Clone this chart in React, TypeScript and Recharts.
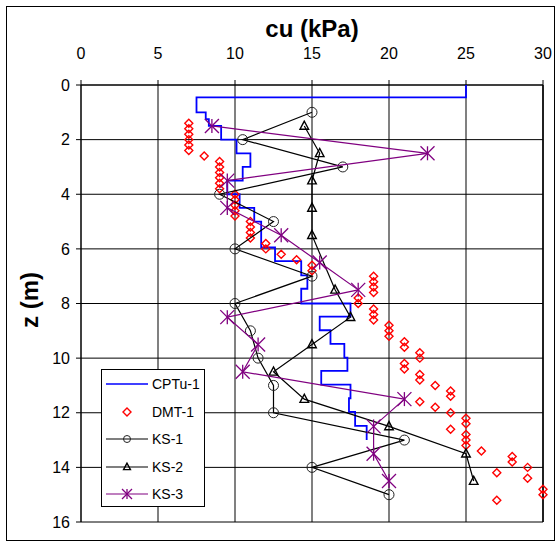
import React from 'react';
import { ScatterChart, Scatter, XAxis, YAxis, CartesianGrid, ReferenceLine } from 'recharts';

const FONT = '"Liberation Sans", Arial, sans-serif';

// CPTu-1 step profile, corner points in drawing order
const cptuCu = [25, 25, 7.5, 7.5, 8.1, 8.1, 8.3, 8.3, 9.1, 9.1, 10.1, 10.1, 11.0, 11.0, 10.5, 10.5, 9.5, 9.5, 10.3, 10.3,
  11.25, 11.25, 11.7, 11.7, 12.6, 12.6, 14.3, 14.3, 14.7, 14.7, 14.3, 14.3, 17.5, 17.5, 15.5, 15.5, 16.2, 16.2, 17.1, 17.1,
  17.3, 17.3, 15.6, 15.6, 17.5, 17.5, 17.4, 17.4, 17.8, 17.8, 18.55, 18.55];
const cptuZ = [0, 0.45, 0.45, 1.0, 1.0, 1.25, 1.25, 1.5, 1.5, 2.0, 2.0, 2.5, 2.5, 3.0, 3.0, 3.5, 3.5, 4.0, 4.0, 4.5,
  4.5, 5.0, 5.0, 5.95, 5.95, 6.45, 6.45, 6.97, 6.97, 7.46, 7.46, 8.0, 8.0, 8.48, 8.48, 8.98, 8.98, 9.48, 9.48, 9.98,
  9.98, 10.47, 10.47, 10.97, 10.97, 11.47, 11.47, 11.97, 11.97, 12.48, 12.48, 13.0];

// DMT-1
const dmtCu = [7, 7, 7, 7, 7, 7, 8, 9, 9, 9, 9, 9, 9, 10, 10, 10, 10, 10, 11, 11, 11, 11, 12, 12, 13, 14, 15, 15,
  19, 19, 19, 19, 18, 18, 19, 19, 19, 20, 20, 20, 21, 21, 22, 22, 21, 21, 22, 22, 23, 24, 24, 22, 23, 24, 25, 25,
  24, 25, 25, 25, 26, 28, 28, 29, 27, 29, 30, 30, 27];
const dmtZ = [1.4, 1.6, 1.8, 2.0, 2.2, 2.4, 2.6, 2.8, 3.0, 3.2, 3.4, 3.6, 3.8, 4.0, 4.2, 4.4, 4.6, 4.8, 5.0, 5.2, 5.4, 5.6,
  5.8, 6.0, 6.2, 6.4, 6.6, 6.8, 7.0, 7.2, 7.4, 7.6, 7.8, 8.0, 8.2, 8.4, 8.6, 8.8, 9.0, 9.2, 9.4, 9.6, 9.8, 10.0, 10.2,
  10.4, 10.6, 10.8, 11.0, 11.2, 11.4, 11.6, 11.8, 12.0, 12.2, 12.4, 12.6, 12.8, 13.0, 13.2, 13.4, 13.6, 13.8, 14.0,
  14.2, 14.4, 14.8, 15.0, 15.2];

// vane tests
const ks1Cu = [15, 10.5, 17, 9, 12.5, 10, 15, 10, 11, 11.5, 12.5, 12.5, 21, 15, 20];
const ks1Z = [1, 2, 3, 4, 5, 6, 7, 8, 9, 10, 11, 12, 13, 14, 15];
const ks2Cu = [14.5, 15.5, 15, 15, 15, 16.5, 17.5, 15, 12.5, 14.5, 20, 25, 25.5];
const ks2Z = [1.5, 2.5, 3.5, 4.5, 5.5, 7.5, 8.5, 9.5, 10.5, 11.5, 12.5, 13.5, 14.5];
const ks3Cu = [8.5, 22.5, 9.5, 9.5, 13, 15.5, 18, 9.5, 11.5, 10.5, 21, 19, 19, 20];
const ks3Z = [1.5, 2.5, 3.5, 4.5, 5.5, 6.5, 7.5, 8.5, 9.5, 10.5, 11.5, 12.5, 13.5, 14.5];

const cuTicks = [0, 5, 10, 15, 20, 25, 30];
const zTicks = [0, 2, 4, 6, 8, 10, 12, 14, 16];

const zip = (cu: number[], z: number[]) => cu.map((v, i) => ({ cu: v, z: z[i] }));

const PURPLE = '#800080';

const NoDot = () => <g />;
const Circ = ({ cx, cy, r = 5 }: any) => <circle cx={cx} cy={cy} r={r} fill="none" stroke="#222" strokeWidth={1} />;
const Tri = ({ cx, cy, s = 1 }: any) => (
  <polygon points={`${cx},${cy - 4.8 * s} ${cx - 4.3 * s},${cy + 3.3 * s} ${cx + 4.3 * s},${cy + 3.3 * s}`}
    fill="none" stroke="#000" strokeWidth={1.4} />
);
const Diam = ({ cx, cy }: any) => (
  <polygon points={`${cx},${cy - 4} ${cx + 4},${cy} ${cx},${cy + 4} ${cx - 4},${cy}`}
    fill="none" stroke="#ff0000" strokeWidth={1.4} />
);
const Star = ({ cx, cy, s = 7 }: any) => (
  <g stroke={PURPLE} strokeWidth={1.3}>
    <line x1={cx} y1={cy - s} x2={cx} y2={cy + s} />
    <line x1={cx - s} y1={cy - s} x2={cx + s} y2={cy + s} />
    <line x1={cx + s} y1={cy - s} x2={cx - s} y2={cy + s} />
  </g>
);

const legendRows = [
  { name: 'CPTu-1', line: '#0000ff', mark: null },
  { name: 'DMT-1', line: null, mark: <Diam cx={22} cy={8} /> },
  { name: 'KS-1', line: '#000', mark: <Circ cx={22} cy={8} r={3.5} /> },
  { name: 'KS-2', line: '#000', mark: <Tri cx={22} cy={8} s={0.8} /> },
  { name: 'KS-3', line: PURPLE, mark: <Star cx={22} cy={8} s={5} /> },
];

export default function App() {
  return (
    <div style={{ position: 'absolute', left: 0, top: 0, width: 555, height: 542, background: '#fff', fontFamily: FONT }}>
      <div style={{ position: 'absolute', left: 6, top: 6, width: 547, height: 533, border: '1px solid #000' }} />
      <div style={{ position: 'absolute', left: 0, top: 0 }}>
        <ScatterChart width={555} height={542} margin={{ top: 55, right: 12, bottom: 20, left: 45 }}>
          <CartesianGrid horizontal={false} stroke="#808080" strokeWidth={2} />
          <CartesianGrid vertical={false} stroke="#000" strokeWidth={1} />
          <XAxis type="number" dataKey="cu" orientation="top" domain={[0, 30]} ticks={cuTicks} height={30}
            tickSize={5} tickMargin={21} axisLine={{ stroke: '#000' }} tickLine={{ stroke: '#000' }}
            tick={{ fill: '#000', fontSize: 16, fontFamily: FONT }} />
          <YAxis type="number" dataKey="z" reversed domain={[0, 16]} ticks={zTicks} width={36}
            tickSize={5} tickMargin={6} axisLine={{ stroke: '#000' }} tickLine={{ stroke: '#000' }}
            tick={{ fill: '#000', fontSize: 16, fontFamily: FONT }} />
          <ReferenceLine x={30} stroke="#000" strokeWidth={1.5} />
          <Scatter name="CPTu-1" data={zip(cptuCu, cptuZ)} fill="#0000ff" line={{ stroke: '#0000ff', strokeWidth: 1.8 }}
            shape={NoDot} isAnimationActive={false} />
          <Scatter name="DMT-1" data={zip(dmtCu, dmtZ)} fill="#ff0000" shape={Diam} isAnimationActive={false} />
          <Scatter name="KS-1" data={zip(ks1Cu, ks1Z)} fill="#000" line={{ stroke: '#000', strokeWidth: 1.2 }}
            shape={Circ} isAnimationActive={false} />
          <Scatter name="KS-2" data={zip(ks2Cu, ks2Z)} fill="#000" line={{ stroke: '#000', strokeWidth: 1.2 }}
            shape={Tri} isAnimationActive={false} />
          <Scatter name="KS-3" data={zip(ks3Cu, ks3Z)} fill={PURPLE} line={{ stroke: PURPLE, strokeWidth: 1.2 }}
            shape={Star} isAnimationActive={false} />
        </ScatterChart>
      </div>
      <div style={{ position: 'absolute', left: 232, top: 15, width: 160, height: 28, lineHeight: '28px', textAlign: 'center',
        fontSize: 24, fontWeight: 'bold' }}>
        cu (kPa)
      </div>
      <div style={{ position: 'absolute', left: 30, top: 300, transform: 'translate(-50%, -50%) rotate(-90deg)', fontSize: 24,
        fontWeight: 'bold', whiteSpace: 'nowrap' }}>
        z (m)
      </div>
      <div style={{ position: 'absolute', left: 101, top: 369, width: 102, height: 136, border: '1px solid #000', background: '#fff' }}>
        {legendRows.map((r, i) => (
          <div key={r.name} style={{ position: 'absolute', left: 3, top: 6 + i * 27.5, height: 16, display: 'flex', alignItems: 'center' }}>
            <svg width={44} height={16} style={{ display: 'block' }}>
              {r.line && <line x1={1} y1={8} x2={43} y2={8} stroke={r.line} strokeWidth={r.name === 'CPTu-1' ? 1.5 : 1.2} />}
              {r.mark}
            </svg>
            <span style={{ marginLeft: 3, fontSize: 14, lineHeight: '16px', color: '#000' }}>{r.name}</span>
          </div>
        ))}
      </div>
    </div>
  );
}
